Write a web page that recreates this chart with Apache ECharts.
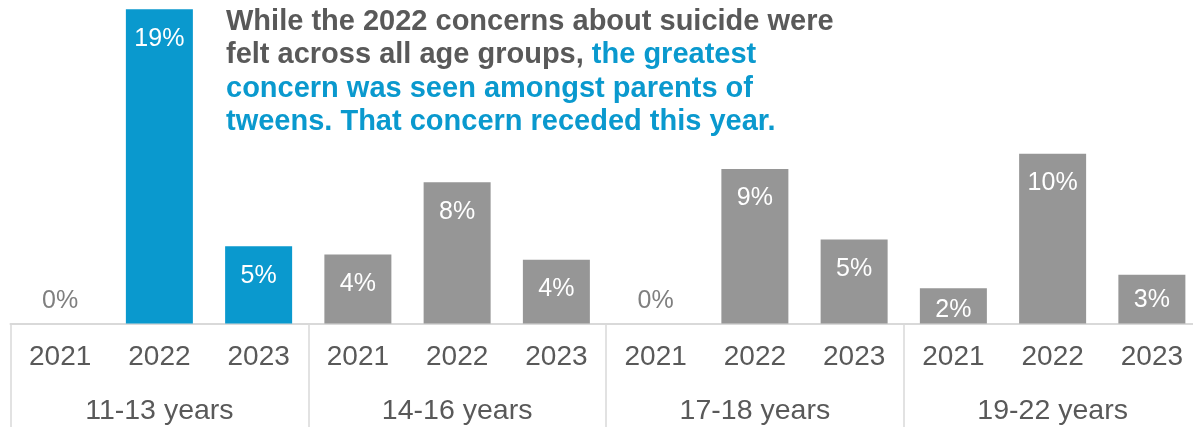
<!DOCTYPE html>
<html>
<head>
<meta charset="utf-8">
<style>
  html, body { margin: 0; padding: 0; background: #ffffff; overflow: hidden; }
  #chart { width: 1203px; height: 427px; }
</style>
<script src="https://cdn.jsdelivr.net/npm/echarts@6/dist/echarts.min.js"></script>
</head>
<body>
<div id="chart"></div>
<script>
// ---- data ----
var years = ['2021', '2022', '2023', '2021', '2022', '2023', '2021', '2022', '2023', '2021', '2022', '2023'];
var ageGroups = ['11-13 years', '14-16 years', '17-18 years', '19-22 years'];
var values = [0, 18.7, 4.6, 4.1, 8.4, 3.8, 0, 9.2, 5.0, 2.1, 10.1, 2.9];
var highlightGroup = '11-13 years';

var BLUE = '#0A99CE';
var GRAY = '#969696';
var TEXT = '#595959';
var FONT = '"Liberation Sans", Arial, sans-serif';

var chart = echarts.init(document.getElementById('chart'), null, { renderer: 'canvas' });

var barData = values.map(function (v, i) {
  var group = ageGroups[Math.floor(i / 3)];
  var color = group === highlightGroup ? BLUE : GRAY;
  var label;
  if (v === 0) {
    label = { position: 'top', distance: 10, color: '#7F7F7F' };
  } else {
    var d = v < 2.5 ? 9 : (v < 3.5 ? 13 : 17);
    label = { position: 'insideTop', distance: d, color: '#FFFFFF' };
  }
  return { value: v, itemStyle: { color: color }, label: label };
});

var option = {
  animation: false,
  backgroundColor: '#ffffff',
  grid: { left: 10.5, right: 1.5, top: 0, bottom: 103.5, containLabel: false, outerBoundsMode: 'none' },
  xAxis: [
    {
      type: 'category',
      data: years,
      position: 'bottom',
      axisLine: { show: true, lineStyle: { color: '#D9D9D9', width: 2 } },
      axisTick: { show: false },
      axisLabel: {
        interval: 0, margin: 20, color: TEXT, fontFamily: FONT, fontSize: 28, lineHeight: 28
      },
      splitLine: { show: false }
    },
    {
      type: 'category',
      data: ageGroups,
      position: 'bottom',
      gridIndex: 0,
      axisLine: { show: false },
      axisTick: { show: true, length: 106, interval: 0, lineStyle: { color: '#D9D9D9', width: 1.5 } },
      axisLabel: {
        interval: 0, margin: 74, color: TEXT, fontFamily: FONT, fontSize: 28.5, lineHeight: 28
      },
      splitLine: { show: false }
    }
  ],
  yAxis: {
    type: 'value', min: 0, max: 19.25, show: false,
    splitLine: { show: false }
  },
  series: [
    {
      type: 'bar',
      xAxisIndex: 0,
      data: barData,
      barWidth: 67,
      label: {
        show: true,
        fontFamily: FONT,
        fontSize: 25,
        lineHeight: 25,
        formatter: function (p) { return Math.round(p.value) + '%'; }
      }
    }
  ],
  graphic: [
    {
      type: 'text',
      left: 226,
      top: 7,
      style: {
        text: '{a|While the 2022 concerns about suicide were}\n{a|felt across all age groups, }{b|the greatest}\n{b|concern was seen amongst parents of}\n{b|tweens. That concern receded this year.}',
        rich: {
          a: { fontFamily: FONT, fontSize: 29, fontWeight: 'bold', fill: TEXT, lineHeight: 33.6 },
          b: { fontFamily: FONT, fontSize: 29, fontWeight: 'bold', fill: BLUE, lineHeight: 33.6 }
        }
      }
    }
  ]
};

chart.setOption(option);
</script>
</body>
</html>
